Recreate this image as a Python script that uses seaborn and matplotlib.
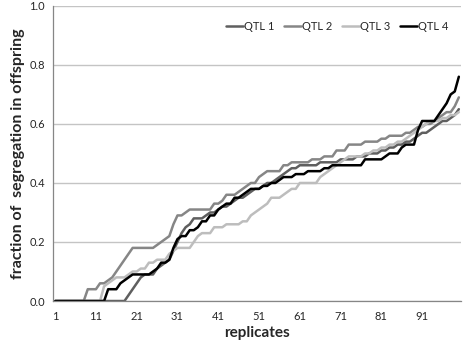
import numpy as np
import pandas as pd
import matplotlib
matplotlib.use("Agg")
import matplotlib.pyplot as plt
import seaborn as sns

# ---- data ----
replicates = list(range(1, 101))

qtl1 = ([0.0] * 18 + [0.02, 0.04, 0.06, 0.08] + [0.09] * 3 + [0.11, 0.12, 0.13, 0.14]
        + [0.17, 0.20, 0.23, 0.25, 0.26] + [0.28] * 3 + [0.29, 0.30, 0.30, 0.31, 0.32, 0.32]
        + [0.33, 0.34, 0.35, 0.35, 0.36, 0.37, 0.38, 0.38, 0.39, 0.40, 0.40]
        + [0.41, 0.42, 0.43, 0.44, 0.45, 0.45] + [0.46] * 5 + [0.47] * 5 + [0.48] * 4
        + [0.49] * 3 + [0.50] * 3 + [0.51, 0.51, 0.52, 0.52, 0.53, 0.53, 0.54, 0.54]
        + [0.55, 0.56, 0.57, 0.57, 0.58, 0.59, 0.60, 0.61, 0.61, 0.62, 0.63, 0.65])

qtl2 = ([0.0] * 8 + [0.04] * 3 + [0.06, 0.06, 0.07, 0.08, 0.10, 0.12, 0.14, 0.16]
        + [0.18] * 6 + [0.19, 0.20, 0.21, 0.22, 0.26, 0.29, 0.29, 0.30] + [0.31] * 6
        + [0.33, 0.33, 0.34, 0.36, 0.36, 0.36, 0.37, 0.38, 0.39, 0.40, 0.40, 0.42, 0.43]
        + [0.44] * 4 + [0.46, 0.46] + [0.47] * 5 + [0.48] * 3 + [0.49] * 3 + [0.51] * 3
        + [0.53] * 4 + [0.54] * 4 + [0.55, 0.55] + [0.56] * 4 + [0.57, 0.57, 0.58]
        + [0.59, 0.59, 0.60, 0.60, 0.61, 0.62, 0.63, 0.64, 0.64, 0.66, 0.69])

qtl3 = ([0.0] * 12 + [0.05, 0.06, 0.07] + [0.08] * 3 + [0.09, 0.10, 0.10, 0.11, 0.11]
        + [0.13, 0.13] + [0.14] * 3 + [0.16, 0.17] + [0.18] * 4 + [0.20, 0.22]
        + [0.23] * 3 + [0.25] * 3 + [0.26] * 4 + [0.27, 0.27, 0.29, 0.30, 0.31, 0.32, 0.33]
        + [0.35] * 3 + [0.36, 0.37, 0.38, 0.38] + [0.40] * 5
        + [0.42, 0.43, 0.44, 0.45, 0.46, 0.47, 0.48] + [0.49] * 4
        + [0.50, 0.50, 0.51, 0.51, 0.52, 0.52, 0.53, 0.53, 0.54, 0.54]
        + [0.55, 0.56, 0.57, 0.58, 0.59, 0.60] + [0.61] * 3 + [0.62, 0.62, 0.63, 0.63, 0.64])

qtl4 = ([0.0] * 13 + [0.04] * 3 + [0.06, 0.07, 0.08] + [0.09] * 5 + [0.10, 0.11, 0.13, 0.13]
        + [0.14, 0.18, 0.21, 0.22, 0.22, 0.24, 0.24, 0.25, 0.27, 0.27, 0.29, 0.29]
        + [0.31, 0.32, 0.33, 0.33, 0.35, 0.35, 0.36, 0.37] + [0.38] * 3
        + [0.39, 0.39, 0.40, 0.40, 0.41] + [0.42] * 3 + [0.43] * 3 + [0.44] * 4
        + [0.45, 0.45] + [0.46] * 8 + [0.48] * 5 + [0.49] + [0.50] * 3 + [0.52]
        + [0.53] * 3 + [0.58] + [0.61] * 4 + [0.63, 0.65, 0.67, 0.70, 0.71, 0.76])

series_names = ["QTL 1", "QTL 2", "QTL 3", "QTL 4"]
series_colors = ["#5f5f5f", "#868686", "#bdbdbd", "#000000"]
x_tick_labels = [1, 11, 21, 31, 41, 51, 61, 71, 81, 91]
y_ticks = [0.0, 0.2, 0.4, 0.6, 0.8, 1.0]

df = pd.DataFrame({"replicates": replicates,
                   "QTL 1": qtl1, "QTL 2": qtl2, "QTL 3": qtl3, "QTL 4": qtl4})
long_df = df.melt(id_vars="replicates", var_name="series", value_name="fraction")

# ---- style ----
sns.set_theme(style="white")
plt.rcParams['font.family'] = ['Lato', 'DejaVu Sans']

fig = plt.figure(figsize=(4.66, 3.46), dpi=100)
ax = fig.add_axes([0.114, 0.130, 0.875, 0.853])

sns.lineplot(data=long_df, x="replicates", y="fraction", hue="series",
             hue_order=series_names, palette=dict(zip(series_names, series_colors)),
             linewidth=1.8, ax=ax)

ax.set_xlim(0.5, 100.5)
ax.set_ylim(0, 1.0)

# category labels, tick marks between categories
ax.set_xticks(x_tick_labels)
ax.set_xticklabels([str(v) for v in x_tick_labels], fontsize=8)
ax.set_xticks(np.arange(0.5, 101, 5), minor=True)
ax.tick_params(axis="x", which="major", length=0, pad=7)
ax.tick_params(axis="x", which="minor", length=4, width=0.8, color="#868686", direction="out")

ax.set_yticks(y_ticks)
ax.set_yticklabels([f"{v:.1f}" for v in y_ticks], fontsize=8)
ax.tick_params(axis="y", which="major", length=4, width=0.8, color="#868686", direction="out", pad=2)
ax.yaxis.grid(True, color="#c4c4c4", linewidth=1.0)
ax.xaxis.grid(False)
ax.set_axisbelow(True)

for side in ["top", "right"]:
    ax.spines[side].set_visible(False)
for side in ["left", "bottom"]:
    ax.spines[side].set_color("#868686")
    ax.spines[side].set_linewidth(0.9)

ax.set_xlabel("replicates", fontsize=11, fontweight="bold", labelpad=3)
ax.set_ylabel("fraction of  segregation in offspring", fontsize=11.5, fontweight="bold", labelpad=3)

ax.legend(loc="center right", bbox_to_anchor=(0.97, 0.93), ncol=4, frameon=False,
          fontsize=8, handlelength=1.5, handletextpad=0.1, columnspacing=0.9,
          borderaxespad=0, borderpad=0)

fig.savefig("out.png", dpi=100)
